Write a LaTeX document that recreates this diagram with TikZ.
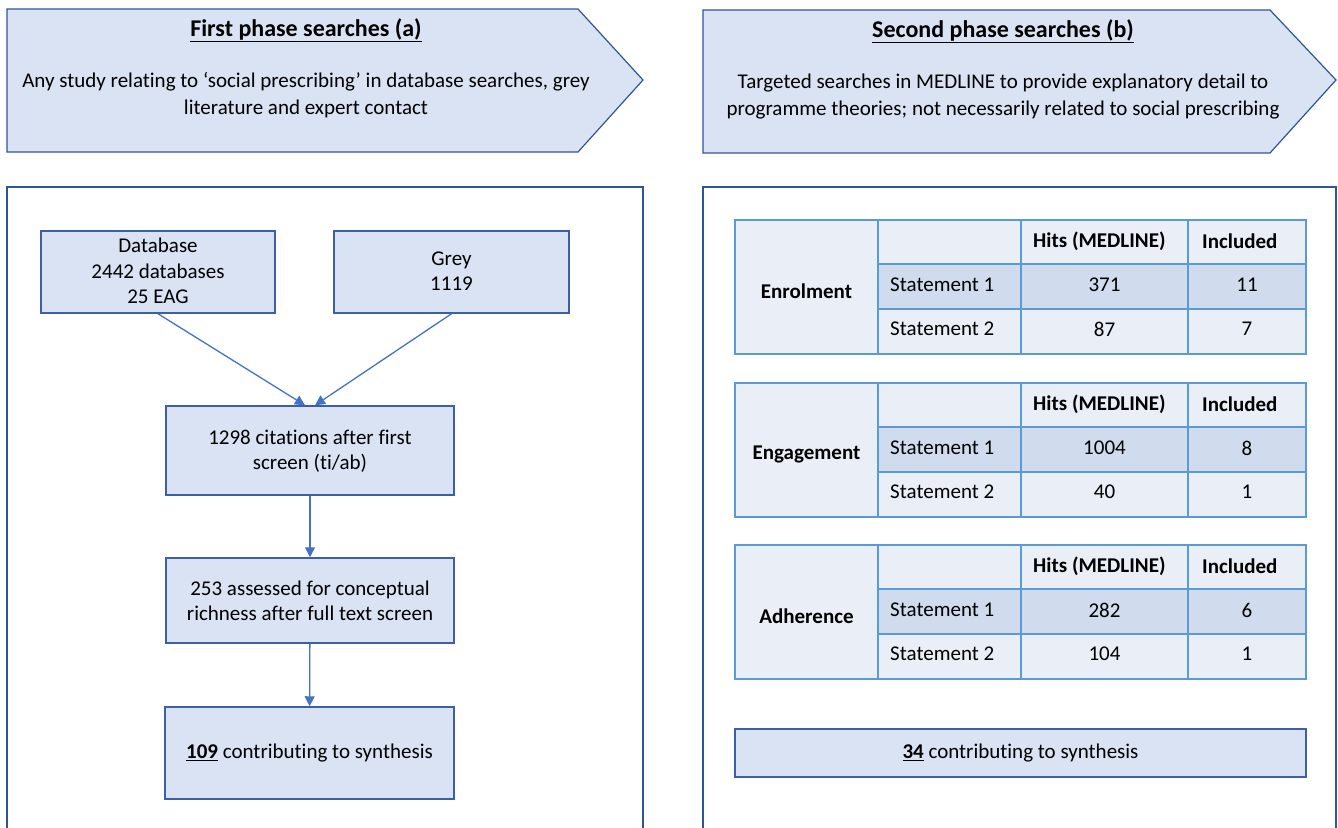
\documentclass[tikz,border=0pt]{standalone}
\usepackage{fontspec}
\setmainfont{Carlito}[Ligatures={NoCommon}]
\usetikzlibrary{arrows.meta}
\definecolor{boxfill}{HTML}{DAE3F3}
\definecolor{boxdraw}{HTML}{3D5FA8}
\definecolor{arrcol}{HTML}{4472C4}
\definecolor{paneldraw}{HTML}{2F5597}
\definecolor{tgridcol}{HTML}{5B9BD5}
\definecolor{tlightcol}{HTML}{E9EEF7}
\definecolor{tdarkcol}{HTML}{D0DCEE}
\tikzset{
  phase/.style={draw=paneldraw, fill=boxfill, line width=1.2pt},
  paneline/.style={draw=paneldraw, line width=1.2pt},
  stepbox/.style={draw=boxdraw, fill=boxfill, line width=1.5pt, align=center, inner sep=0pt},
  txt/.style={font=\fontsize{21}{25.5}\selectfont, align=center, inner sep=0pt},
  ttl/.style={font=\fontsize{24}{28}\selectfont\bfseries, inner sep=0pt},
  desc/.style={font=\fontsize{21}{27}\selectfont, align=center, inner sep=0pt},
  arr/.style={draw=arrcol, line width=1.3pt, -{Triangle[width=10pt,length=10pt]}},
  tgrid/.style={draw=tgridcol, line width=1.5pt},
  tlight/.style={fill=tlightcol},
  tdark/.style={fill=tdarkcol},
  cell/.style={font=\fontsize{21}{25}\selectfont, inner sep=0pt},
  cellb/.style={font=\fontsize{21}{25}\selectfont\bfseries, inner sep=0pt},
}
\newcommand\sptable[7]{%
  \fill[tlight] (735,#1) rectangle (1306,#1+134);
  \fill[tdark] (878,#1+44) rectangle (1306,#1+89);
  \draw[tgrid] (735,#1) rectangle (1306,#1+134);
  \draw[tgrid] (878,#1) -- (878,#1+134) (1021,#1) -- (1021,#1+134)
    (1188,#1) -- (1188,#1+134) (878,#1+44) -- (1306,#1+44) (878,#1+89) -- (1306,#1+89);
  \node[cellb] (#2lab) at (806.5,#1+71) {#3};
  \node[cellb, anchor=west] (#2hh) at (1033,#1+21) {Hits (MEDLINE)};
  \node[cellb, anchor=west] (#2hi) at (1202,#1+21) {Included};
  \node[cell, anchor=west] (#2sa) at (890,#1+65) {Statement 1};
  \node[cell, anchor=west] (#2sb) at (890,#1+109) {Statement 2};
  \node[cell] (#2ha) at (1104.5,#1+65) {#4};
  \node[cell] (#2ia) at (1247,#1+65) {#5};
  \node[cell] (#2hb) at (1104.5,#1+109) {#6};
  \node[cell] (#2ib) at (1247,#1+109) {#7};
}
\begin{document}
\begin{tikzpicture}[x=1pt,y=-1pt]
\useasboundingbox (0,0) rectangle (1338,827);
% phase banners
\draw[phase] (7,9) -- (578,9) -- (643,80) -- (578,152) -- (7,152) -- cycle;
\draw[phase] (703,10) -- (1270,10) -- (1336,80) -- (1270,153) -- (703,153) -- cycle;
\node[ttl] (t1) at (306,30) {\underline{First phase searches (a)}};
\node[desc] (d1) at (306,95) {Any study relating to ‘social prescribing’ in database searches, grey\\literature and expert contact};
\node[ttl] (t2) at (1003,31) {\underline{Second phase searches (b)}};
\node[desc] (d2) at (1003,97) {Targeted searches in MEDLINE to provide explanatory detail to\\programme theories; not necessarily related to social prescribing};
% panels
\draw[paneline] (7,828) -- (7,187) -- (643,187) -- (643,828);
\draw[paneline] (703,828) -- (703,187) -- (1336,187) -- (1336,828);
% left flow
\node[stepbox, minimum width=234pt, minimum height=82pt] (db) at (158,272) {};
\node[txt] (dbt) at (158,271) {Database\\2442 databases\\25 EAG};
\node[stepbox, minimum width=235pt, minimum height=82pt] (grey) at (451.5,272) {};
\node[txt] (greyt) at (451.5,271) {Grey\\1119};
\node[stepbox, minimum width=288pt, minimum height=89pt] (c1298) at (310,450.5) {};
\node[txt] (c1298t) at (310,451) {1298 citations after first\\screen (ti/ab)};
\node[stepbox, minimum width=288pt, minimum height=85pt] (c253) at (310,600.5) {};
\node[txt] (c253t) at (310,601) {253 assessed for conceptual\\richness after full text screen};
\node[stepbox, minimum width=289pt, minimum height=92pt] (c109) at (309.5,753) {};
\node[txt] (c109t) at (309.5,753) {\textbf{\underline{109}} contributing to synthesis};
\draw[arr] (db.south) -- ([xshift=-5pt]c1298.north);
\draw[arr] (grey.south) -- ([xshift=5pt]c1298.north);
\draw[arr] (c1298) -- (c253);
\draw[arr] (c253) -- (c109);
% right tables
\sptable{220}{en}{Enrolment}{371}{11}{87}{7}
\sptable{383}{eg}{Engagement}{1004}{8}{40}{1}
\sptable{545}{ad}{Adherence}{282}{6}{104}{1}
\node[stepbox, minimum width=571pt, minimum height=48pt] (c34) at (1020.5,753) {};
\node[txt] (c34t) at (1020.5,753) {\textbf{\underline{34}} contributing to synthesis};
\end{tikzpicture}
\end{document}
